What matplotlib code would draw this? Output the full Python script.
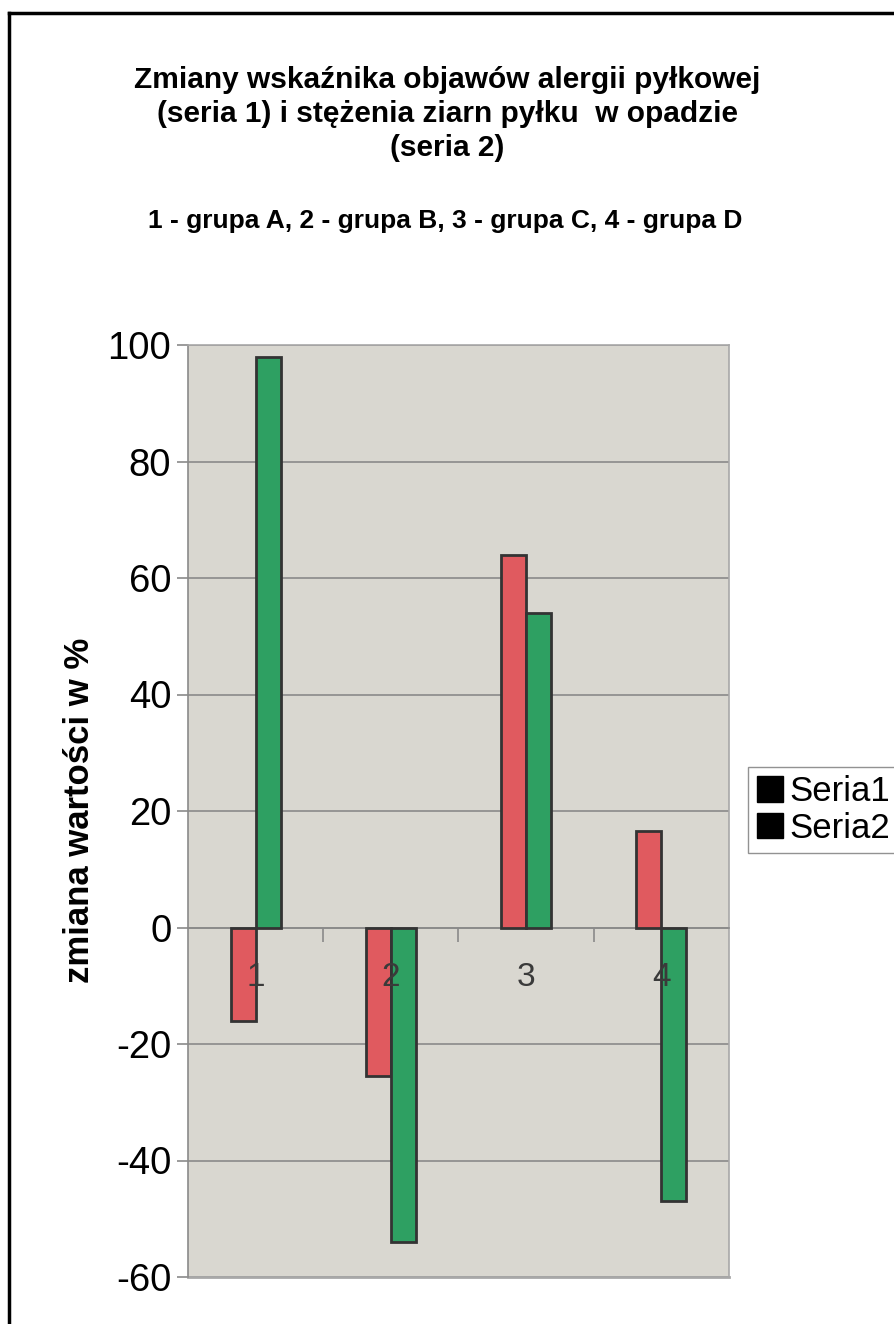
import numpy as np
import matplotlib
matplotlib.use('Agg')
from matplotlib import pyplot as plt
from matplotlib.lines import Line2D
from matplotlib.patches import Patch

plt.rcParams['font.family'] = ['Liberation Sans', 'DejaVu Sans']

# dane: zmiana wartości w % dla grup A-D
grupy = ['1', '2', '3', '4']
seria1 = [-16, -25.5, 64, 16.5]
seria2 = [98, -54, 54, -47]
yticks = [-60, -40, -20, 0, 20, 40, 60, 80, 100]

kolor1 = '#e05a5f'
kolor2 = '#2ea062'
tlo = '#d9d7d0'

fig = plt.figure(figsize=(8.95, 13.24), dpi=100)
ax = fig.add_axes([188/895, 1-1277/1324, (729-188)/895, (1277-345)/1324])
ax.set_facecolor(tlo)

x = np.arange(1, len(grupy)+1)
w = 0.185
ax.bar(x - w/2, seria1, w, color=kolor1, edgecolor='#333333', linewidth=2, zorder=3)
ax.bar(x + w/2, seria2, w, color=kolor2, edgecolor='#333333', linewidth=2, zorder=3)

ax.set_xlim(0.5, 4.5)
ax.set_ylim(-60, 100)
ax.set_yticks(yticks)
ax.set_yticklabels([str(v) for v in yticks], fontsize=27.5)
ax.tick_params(axis='y', length=8, width=1.2, color='#8a8a8a', pad=4)
ax.yaxis.grid(True, color='#8a8a8a', linewidth=1.2, zorder=1)
ax.set_axisbelow(True)

# oś kategorii na wysokości zera
ax.spines['bottom'].set_position(('data', 0))
ax.spines['bottom'].set_color('#8a8a8a')
ax.spines['bottom'].set_linewidth(1.2)
ax.set_xticks([1.5, 2.5, 3.5])
ax.set_xticklabels([])
ax.tick_params(axis='x', length=10, width=1.2, color='#8a8a8a', direction='out')

# etykiety kategorii nad słupkami
for xi, g in zip(x, grupy):
    ax.annotate(g, (xi, 0), xytext=(0, -36), textcoords='offset points',
                ha='center', va='center', fontsize=24, color='#3a3a3a', zorder=5)

for s in ['top', 'right']:
    ax.spines[s].set_color('#a8a8a8')
    ax.spines[s].set_linewidth(1.2)
ax.spines['left'].set_color('#8a8a8a')
ax.spines['left'].set_linewidth(1.2)
# dolna krawędź obszaru wykresu
ax.axhline(-60, color='#a8a8a8', linewidth=2, clip_on=False)

fig.text(80/895, 1-810/1324, 'zmiana wartości w %', rotation=90, fontsize=25,
         fontweight='bold', ha='center', va='center')

fig.text(0.5, 1-114/1324, 'Zmiany wskaźnika objawów alergii pyłkowej\n(seria 1) i stężenia ziarn pyłku  w opadzie\n(seria 2)',
         fontsize=21.5, fontweight='bold', ha='center', va='center', linespacing=1.27)
fig.text(0.497, 1-221/1324, '1 - grupa A, 2 - grupa B, 3 - grupa C, 4 - grupa D',
         fontsize=19, fontweight='bold', ha='center', va='center')

uchwyty = [Patch(facecolor='black', edgecolor='black'), Patch(facecolor='black', edgecolor='black')]
leg = fig.legend(uchwyty, ['Seria1', 'Seria2'], loc='center left',
                 bbox_to_anchor=(748/895, 1-810/1324), fontsize=25, frameon=True,
                 fancybox=False, edgecolor='#777777', handlelength=0.75, handleheight=0.75,
                 handletextpad=0.2, borderpad=0.25, labelspacing=0.1, borderaxespad=0)
leg.get_frame().set_linewidth(1.0)

# ramka wokół całości
fig.add_artist(Line2D([9/895, 9/895], [0, 1-13/1324], color='black', linewidth=2.5))
fig.add_artist(Line2D([9/895, 1], [1-13/1324, 1-13/1324], color='black', linewidth=2.5))

fig.savefig('out.png', dpi=100, facecolor='white')
